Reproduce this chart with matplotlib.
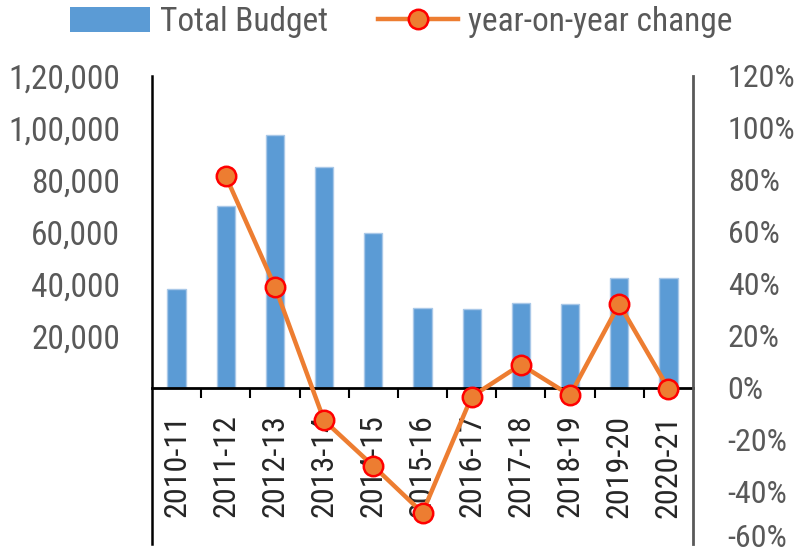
import numpy as np
import matplotlib
matplotlib.use("Agg")
import matplotlib.pyplot as plt
from matplotlib import font_manager
from matplotlib.patches import Patch
from matplotlib.lines import Line2D
from matplotlib.transforms import ScaledTranslation

years = ["2010-11", "2011-12", "2012-13", "2013-14", "2014-15", "2015-16",
         "2016-17", "2017-18", "2018-19", "2019-20", "2020-21"]
budget = [38000, 70000, 97300, 85100, 59600, 30800,
          30400, 32700, 32300, 42300, 42300]
yoy = [np.nan, 81.5, 39.0, -12.5, -30.0, -48.0,
       -3.3, 9.0, -2.8, 32.3, -0.2]
left_ticks = [20000, 40000, 60000, 80000, 100000, 120000]
left_labels = ["20,000", "40,000", "60,000", "80,000", "1,00,000", "1,20,000"]
right_ticks = [-60, -40, -20, 0, 20, 40, 60, 80, 100, 120]

# pick a narrow font if there is one
names = set(f.name for f in font_manager.fontManager.ttflist)
font = "Liberation Sans"
fs = 20
for cand in ["Liberation Sans Narrow", "Arial Narrow", "Roboto Condensed", "Open Sans Condensed"]:
    if cand in names:
        font = cand
        fs = 24
        break
plt.rcParams["font.family"] = [font, "DejaVu Sans"]

blue = "#5B9BD5"
orange = "#ED7D31"
grey = "#595959"

fig = plt.figure(figsize=(8.02, 5.57), dpi=100)
ax = fig.add_axes([152/802, 1-544/557, (693-152)/802, (544-76)/557])
x = np.arange(len(years))
ax.bar(x, budget, width=0.37, color=blue, edgecolor="#A9C8E8", linewidth=1.0, zorder=2)
ax.set_xlim(-0.5, len(years) - 0.5)
ax.set_ylim(-60000, 120000)
ax.set_yticks(left_ticks)
ax.set_yticklabels(left_labels)
ax.tick_params(axis="y", length=0, pad=23, labelsize=fs, labelcolor=grey)

ax.spines["top"].set_visible(False)
ax.spines["right"].set_visible(False)
ax.spines["left"].set_color("black")
ax.spines["left"].set_linewidth(1.8)
ax.spines["bottom"].set_position(("data", 0))
ax.spines["bottom"].set_color("black")
ax.spines["bottom"].set_linewidth(2)
ax.spines["bottom"].set_zorder(3)

ax.set_xticks(x)
ax.set_xticklabels(years, rotation=90, va="top", ha="center")
ax.set_xticks(x[:-1] + 0.5, minor=True)
ax.tick_params(axis="x", which="major", length=0, pad=19, labelsize=fs - 1, labelcolor="#262626")
ax.tick_params(axis="x", which="minor", length=7, width=1.5, color="black", direction="out")

ax2 = ax.twinx()
ax2.plot(x, yoy, color=orange, linewidth=3.2, marker="o", markersize=14,
         markerfacecolor=orange, markeredgecolor="#FF0000", markeredgewidth=1.8, zorder=4)
ax2.set_ylim(-60, 120)
ax2.set_yticks(right_ticks)
ax2.set_yticklabels([f"{v}%" for v in right_ticks])
ax2.tick_params(axis="y", length=0, pad=25, labelsize=fs - 1, labelcolor=grey)
for s in ["top", "left", "bottom"]:
    ax2.spines[s].set_visible(False)
ax2.spines["right"].set_color(grey)
ax2.spines["right"].set_linewidth(2)

# lift the bottom label a little so it stays inside the picture
fig.canvas.draw()
lab = ax2.get_yticklabels()[0]
lab.set_transform(lab.get_transform() + ScaledTranslation(0, 6/72, fig.dpi_scale_trans))

handles = [Patch(facecolor=blue, edgecolor="none", label="Total Budget"),
           Line2D([], [], color=orange, linewidth=3.2, marker="o", markersize=14,
                  markerfacecolor=orange, markeredgecolor="#FF0000", markeredgewidth=1.8,
                  label="year-on-year change")]
leg = fig.legend(handles=handles, loc="center", bbox_to_anchor=(0.5, 1 - 22/557), ncol=2,
                 frameon=False, fontsize=fs, handlelength=2.4, handletextpad=0.3,
                 columnspacing=1.5, handleheight=0.8)
for t in leg.get_texts():
    t.set_color(grey)

fig.savefig("out.png", dpi=100)
